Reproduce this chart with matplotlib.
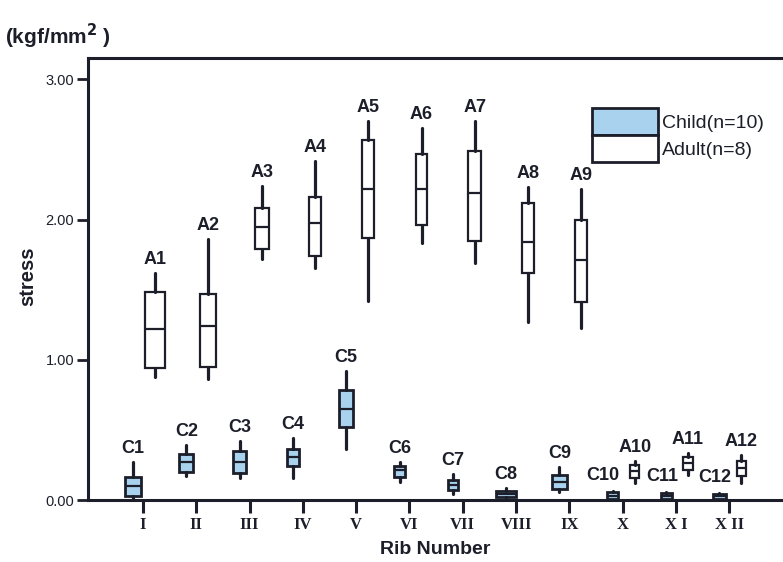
import matplotlib
matplotlib.use("Agg")
import matplotlib.pyplot as plt
from matplotlib.patches import Patch

# ---------------- data ----------------
rib_labels = ["I", "II", "III", "IV", "V", "VI", "VII", "VIII", "IX", "X", "X I", "X II"]

child_names = ["C1", "C2", "C3", "C4", "C5", "C6", "C7", "C8", "C9", "C10", "C11", "C12"]
child_whislo = [0.012, 0.174, 0.155, 0.155, 0.362, 0.131, 0.043, 0.012, 0.055, 0.005, 0.005, 0.005]
child_q1     = [0.031, 0.200, 0.190, 0.243, 0.519, 0.162, 0.071, 0.019, 0.076, 0.010, 0.008, 0.008]
child_med    = [0.100, 0.274, 0.271, 0.310, 0.648, 0.214, 0.107, 0.043, 0.126, 0.031, 0.029, 0.025]
child_q3     = [0.167, 0.326, 0.352, 0.362, 0.786, 0.245, 0.143, 0.067, 0.179, 0.055, 0.050, 0.043]
child_whishi = [0.274, 0.393, 0.424, 0.440, 0.921, 0.274, 0.183, 0.083, 0.233, 0.062, 0.056, 0.048]

adult_names = ["A1", "A2", "A3", "A4", "A5", "A6", "A7", "A8", "A9", "A10", "A11", "A12"]
adult_whislo = [0.88, 0.86, 1.72, 1.655, 1.42, 1.83, 1.69, 1.27, 1.23, 0.124, 0.179, 0.124]
adult_q1     = [0.94, 0.95, 1.79, 1.74, 1.87, 1.96, 1.845, 1.62, 1.41, 0.155, 0.214, 0.171]
adult_med    = [1.22, 1.24, 1.95, 1.976, 2.22, 2.22, 2.19, 1.84, 1.71, 0.210, 0.267, 0.226]
adult_q3     = [1.486, 1.47, 2.08, 2.16, 2.566, 2.47, 2.486, 2.12, 2.00, 0.250, 0.305, 0.280]
adult_whishi = [1.62, 1.86, 2.243, 2.42, 2.70, 2.65, 2.70, 2.23, 2.22, 0.281, 0.338, 0.320]

y_ticks = [0.0, 1.0, 2.0, 3.0]
legend_labels = ["Child(n=10)", "Adult(n=8)"]

# ---------------- style ----------------
W, H = 783, 562
DPI = 100
ink = "#1c1f2a"
child_fc = "#a9d2ee"
px_per_unit_x = 53.3
child_offset_px = -10
adult_offset_px = 12
child_width_px = [16, 14, 13, 12, 14, 11, 10, 20, 15, 11, 11, 13]
adult_width_px = [20, 16, 14, 12, 12, 11, 13, 12, 12, 9, 9, 9]
child_label_dx = [0, 0, 0, 0, 0, 0, 0, 0, 0, -7, -3, -3]
child_label_dy = [3.6, 3.6, 3.6, 3.6, 3.6, 3.6, 3.6, 3.6, 3.6, 5, 5, 5]

plt.rcParams["font.family"] = ["Liberation Sans", "DejaVu Sans"]

fig = plt.figure(figsize=(W / DPI, H / DPI), dpi=DPI)
ax = fig.add_axes([88 / W, 1 - 500 / H, 1 - 88 / W, (500 - 58) / H])

n = len(rib_labels)
xs = list(range(1, n + 1))
child_pos = [x + child_offset_px / px_per_unit_x for x in xs]
adult_pos = [x + adult_offset_px / px_per_unit_x for x in xs]


def stats(lo, q1, med, q3, hi, names):
    return [dict(whislo=a, q1=b, med=c, q3=d, whishi=e, fliers=[], label=nm)
            for a, b, c, d, e, nm in zip(lo, q1, med, q3, hi, names)]


cst = stats(child_whislo, child_q1, child_med, child_q3, child_whishi, child_names)
ast = stats(adult_whislo, adult_q1, adult_med, adult_q3, adult_whishi, adult_names)

common = dict(patch_artist=True, showcaps=False, showfliers=False,
              medianprops=dict(color=ink, linewidth=1.6),
              whiskerprops=dict(color=ink, linewidth=2.3, solid_capstyle="round"),
              manage_ticks=False)
ax.bxp(cst, positions=child_pos, widths=[w / px_per_unit_x for w in child_width_px],
       boxprops=dict(facecolor=child_fc, edgecolor=ink, linewidth=2.0), **common)
ax.bxp(ast, positions=adult_pos, widths=[w / px_per_unit_x for w in adult_width_px],
       boxprops=dict(facecolor="white", edgecolor=ink, linewidth=1.6), **common)

lab_font = dict(fontsize=13, fontweight="bold", color=ink, ha="center", va="bottom")
for i in range(n):
    ax.annotate(child_names[i], (child_pos[i], child_whishi[i]),
                xytext=(child_label_dx[i], child_label_dy[i]), textcoords="offset points", **lab_font)
    ax.annotate(adult_names[i], (adult_pos[i], adult_whishi[i]),
                xytext=(0, 3.6), textcoords="offset points", **lab_font)

ax.set_xlim(1 - 55 / px_per_unit_x, 1 + (W - 143) / px_per_unit_x)
ax.set_ylim(0, (500 - 58) / 140.2)
ax.set_xticks(xs)
ax.set_xticklabels(rib_labels, family=["Liberation Serif", "DejaVu Serif"],
                   fontweight="bold", fontsize=12)
ax.set_yticks(y_ticks)
ax.set_yticklabels([f"{v:.2f}" for v in y_ticks], fontsize=10.5)
ax.tick_params(axis="x", length=9, width=2.2, color=ink, pad=3, labelcolor=ink)
ax.tick_params(axis="y", length=8, width=2.0, color=ink, pad=2, labelcolor=ink)

for s in ["left", "top", "bottom"]:
    ax.spines[s].set_linewidth(2.2)
    ax.spines[s].set_color(ink)
ax.spines["right"].set_visible(False)

fig.text(435 / W, 1 - 550 / H, "Rib Number", fontsize=14, fontweight="bold",
         color=ink, ha="center", va="center")
fig.text(28 / W, 1 - 276 / H, "stress", fontsize=14.5, fontweight="bold",
         color=ink, ha="center", va="center", rotation=90)
fig.text(5 / W, 1 - 36 / H, r"(kgf/mm$^{\mathbf{2}}$ )", fontsize=15, fontweight="bold",
         color=ink, ha="left", va="center")

handles = [Patch(facecolor=child_fc, edgecolor=ink, linewidth=2.0),
           Patch(facecolor="white", edgecolor=ink, linewidth=2.0)]
fig.legend(handles, legend_labels, loc="upper left", bbox_to_anchor=(592 / W, 1 - 108 / H),
           frameon=False, fontsize=14, handlelength=3.4, handleheight=1.75,
           labelspacing=0.0, handletextpad=0.2, borderpad=0, borderaxespad=0,
           labelcolor=ink)

fig.savefig("out.png", dpi=DPI)
